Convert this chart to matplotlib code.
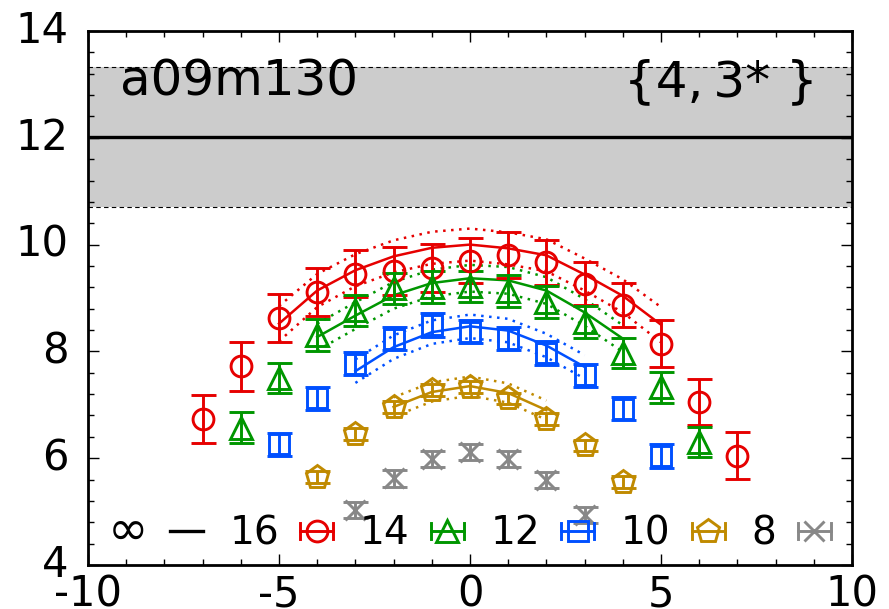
import numpy as np
import matplotlib
matplotlib.use("Agg")
import matplotlib.pyplot as plt
from matplotlib.lines import Line2D
from matplotlib.legend_handler import HandlerBase
from matplotlib.ticker import MultipleLocator

plt.rcParams["font.family"] = ["DejaVu Sans"]
plt.rcParams["axes.unicode_minus"] = False

# ---- data -------------------------------------------------------------
# ratio data per source-sink separation, plotted against tau - tsep/2
tau16 = [-7, -6, -5, -4, -3, -2, -1, 0, 1, 2, 3, 4, 5, 6, 7]
val16 = [6.73, 7.72, 8.62, 9.12, 9.45, 9.51, 9.56, 9.70, 9.81, 9.67, 9.27, 8.87, 8.14, 7.05, 6.05]
err16 = [0.45, 0.46, 0.45, 0.45, 0.44, 0.45, 0.45, 0.42, 0.43, 0.42, 0.41, 0.42, 0.44, 0.43, 0.44]

tau14 = [-6, -5, -4, -3, -2, -1, 0, 1, 2, 3, 4, 5, 6]
val14 = [6.57, 7.51, 8.30, 8.77, 9.18, 9.20, 9.22, 9.14, 8.92, 8.55, 7.97, 7.33, 6.30]
err14 = [0.29, 0.28, 0.30, 0.29, 0.29, 0.30, 0.29, 0.30, 0.30, 0.30, 0.28, 0.29, 0.28]

tau12 = [-5, -4, -3, -2, -1, 0, 1, 2, 3, 4, 5]
val12 = [6.26, 7.12, 7.77, 8.24, 8.49, 8.37, 8.24, 7.97, 7.55, 6.93, 6.04]
err12 = [0.22, 0.22, 0.22, 0.22, 0.22, 0.22, 0.22, 0.22, 0.22, 0.22, 0.22]

tau10 = [-4, -3, -2, -1, 0, 1, 2, 3, 4]
val10 = [5.65, 6.46, 6.96, 7.28, 7.33, 7.12, 6.74, 6.24, 5.56]
err10 = [0.11, 0.11, 0.11, 0.11, 0.11, 0.11, 0.11, 0.11, 0.11]

tau8 = [-3, -2, -1, 0, 1, 2, 3]
val8 = [5.03, 5.62, 5.98, 6.12, 5.98, 5.59, 4.93]
err8 = [0.15, 0.15, 0.15, 0.15, 0.15, 0.15, 0.15]

# fit curves with their error bands
fit_tau16 = [-5, -4, -3, -2, -1, 0, 1, 2, 3, 4, 5]
fit16 = [8.52, 9.14, 9.52, 9.78, 9.94, 10.00, 9.93, 9.80, 9.44, 9.04, 8.50]
fit16_err = [0.33, 0.31, 0.30, 0.30, 0.30, 0.30, 0.30, 0.30, 0.30, 0.31, 0.33]

fit_tau14 = [-4, -3, -2, -1, 0, 1, 2, 3, 4]
fit14 = [8.27, 8.67, 9.05, 9.28, 9.37, 9.33, 9.14, 8.73, 8.24]
fit14_err = [0.25, 0.25, 0.25, 0.25, 0.25, 0.25, 0.25, 0.25, 0.25]

fit_tau12 = [-3, -2, -1, 0, 1, 2, 3]
fit12 = [7.63, 8.08, 8.36, 8.47, 8.39, 8.11, 7.71]
fit12_err = [0.22, 0.22, 0.22, 0.22, 0.22, 0.22, 0.22]

fit_tau10 = [-2, -1, 0, 1, 2]
fit10 = [6.96, 7.24, 7.35, 7.22, 6.90]
fit10_err = [0.18, 0.18, 0.18, 0.18, 0.18]

# extrapolated (tsep -> infinity) result
inf_value = 12.02
inf_error = 1.31

ensemble = "a09m130"
fit_label = "{4,\u20093* }"
legend_labels = ["\u221e", "16", "14", "12", "10", "8"]

# ---- styling ----------------------------------------------------------
RED = "#e60000"
GREEN = "#009600"
BLUE = "#0050ff"
GOLD = "#c08a00"
GRAY = "#888888"

series = [
    (tau16, val16, err16, RED, "o", 15),
    (tau14, val14, err14, GREEN, "^", 16),
    (tau12, val12, err12, BLUE, "s", 14),
    (tau10, val10, err10, GOLD, "p", 17),
    (tau8, val8, err8, GRAY, "x", 14),
]
fits = [
    (fit_tau16, fit16, fit16_err, RED),
    (fit_tau14, fit14, fit14_err, GREEN),
    (fit_tau12, fit12, fit12_err, BLUE),
    (fit_tau10, fit10, fit10_err, GOLD),
]

fig = plt.figure(figsize=(8.89, 6.09), dpi=100)
ax = fig.add_axes([88 / 889, 44 / 609, 764 / 889, 534 / 609])

xmin, xmax = -10, 10
ax.set_xlim(xmin, xmax)
ax.set_ylim(4, 14)

# band for the extrapolated value
ax.axhspan(inf_value - inf_error, inf_value + inf_error, color="#cccccc", lw=0, zorder=0)
for yb in (inf_value - inf_error, inf_value + inf_error):
    ax.axhline(yb, color="black", lw=0.8, ls=(0, (4, 3)), zorder=1)
ax.axhline(inf_value, color="black", lw=2.4, zorder=1)

# fit curves
for ft, fv, fe, c in fits:
    fv = np.asarray(fv)
    fe = np.asarray(fe)
    ax.plot(ft, fv, color=c, lw=1.8, zorder=2)
    ax.plot(ft, fv + fe, color=c, lw=1.8, ls=(0, (1, 2.2)), zorder=2)
    ax.plot(ft, fv - fe, color=c, lw=1.8, ls=(0, (1, 2.2)), zorder=2)

# data points
handles = [Line2D([], [], color="black", lw=2.4)]
for t, v, e, c, m, ms in series:
    ax.errorbar(t, v, yerr=e, fmt=m, color=c, ms=ms, mfc="none", mec=c,
                mew=2.1, elinewidth=2.1, capsize=9, capthick=2.1, zorder=3)
    handles.append(Line2D([], [], color=c, marker=m, ms=ms, lw=2.1))


class HorizontalErrorbarHandler(HandlerBase):
    """Legend sample: horizontal bar with end caps and the marker centred."""

    def create_artists(self, legend, orig_handle, xdescent, ydescent,
                       width, height, fontsize, trans):
        c = orig_handle.get_color()
        lw = orig_handle.get_linewidth()
        yc = 0.5 * height - ydescent
        x0, x1 = -xdescent, width - xdescent
        artists = [Line2D([x0, x1], [yc, yc], color=c, lw=lw, transform=trans)]
        if orig_handle.get_marker() not in (None, "None", "none", ""):
            cap = 0.3 * height
            artists.append(Line2D([x0, x0, np.nan, x1, x1],
                                  [yc - cap, yc + cap, np.nan, yc - cap, yc + cap],
                                  color=c, lw=lw, transform=trans))
            artists.append(Line2D([0.5 * (x0 + x1)], [yc], ls="none",
                                  marker=orig_handle.get_marker(),
                                  ms=orig_handle.get_markersize(),
                                  mfc="none", mec=c, mew=2.1, transform=trans))
        return artists


leg = ax.legend(handles, legend_labels, loc="lower left",
                bbox_to_anchor=(0.026, 0.02), ncol=6, frameon=False,
                markerfirst=False, fontsize=28, handlelength=0.85,
                handletextpad=0.55, columnspacing=0.68, borderpad=0,
                borderaxespad=0,
                handler_map={Line2D: HorizontalErrorbarHandler()})
leg.get_texts()[0].set_fontsize(35)

ax.text(0.042, 0.905, ensemble, transform=ax.transAxes, fontsize=36,
        ha="left", va="center")
ax.text(0.955, 0.905, fit_label, transform=ax.transAxes, fontsize=36,
        ha="right", va="center")

# axes frame and ticks
for s in ax.spines.values():
    s.set_linewidth(2.0)
ax.xaxis.set_major_locator(MultipleLocator(5))
ax.xaxis.set_minor_locator(MultipleLocator(1))
ax.yaxis.set_major_locator(MultipleLocator(2))
ax.yaxis.set_minor_locator(MultipleLocator(0.4))
ax.tick_params(which="both", direction="in", top=True, right=True, width=1.0)
ax.tick_params(which="major", length=8)
ax.tick_params(which="minor", length=4.5)
ax.tick_params(axis="x", which="major", labelsize=30, pad=6)
ax.tick_params(axis="y", which="major", labelsize=30, pad=14)
for lab in ax.get_yticklabels():
    lab.set_verticalalignment("center")

fig.savefig("out.png", dpi=100)
